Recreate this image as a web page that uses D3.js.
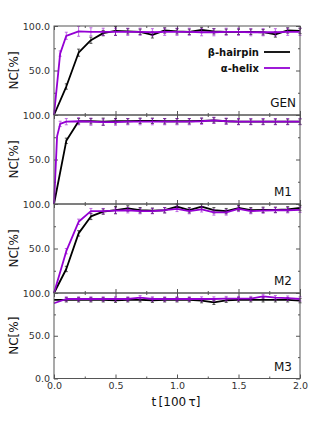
<!DOCTYPE html>
<html>
<head>
<meta charset="utf-8">
<script src="https://cdn.jsdelivr.net/npm/d3@7"></script>
<style>
  body { margin: 0; background: #fff; }
  svg text { font-family: "DejaVu Sans", sans-serif; }
</style>
</head>
<body>
<svg id="chart" width="315" height="425"></svg>
<script>
// sampling times in units of 100 tau
const times = [0, 0.025, 0.05, 0.1, 0.2, 0.3, 0.4, 0.5, 0.6, 0.7, 0.8, 0.9,
  1.0, 1.1, 1.2, 1.3, 1.4, 1.5, 1.6, 1.7, 1.8, 1.9, 2.0]

const panelNames = ['GEN', 'M1', 'M2', 'M3']
const seriesNames = ['β-hairpin', 'α-helix']
const seriesColors = ['#000000', '#9400d3']

// NC[%] per panel, null = no sample drawn
const genHairpin = [0, null, null, 32, 70, 84, 92, 94.5, 94, 93.5, 90, 95, 94, 93.5, 95.5, 94, 93.5, 93.5, 93.5, 93, 90.5, 95, 94.5]
const genHelix = [0, null, 69, 89, 94, 93.5, 93.5, 93.5, 93.5, 93.5, 93, 93.5, 93.5, 93.5, 93, 93, 93.5, 93.5, 93, 93, 93, 93.5, 93.5]
const m1Hairpin = [0, null, null, 71, 93, 93, 92.5, 93, 93, 93.5, 93.5, 93, 93, 93, 93.5, 94, 93, 92.5, 92.5, 92.5, 92.5, 92.5, 92.5]
const m1Helix = [0, 76, 90, 92.5, 93, 92.5, 92, 92, 92.5, 92.5, 92.5, 92.5, 92.5, 92.5, 93, 94, 93, 92.5, 92.5, 92.5, 92.5, 92.5, 92.5]
const m2Hairpin = [0, null, null, 27, 67, 86, 91.5, 93, 95, 93, 92.5, 93, 97, 93, 97, 93, 92, 95.5, 93, 93.5, 93.5, 94, 95.5]
const m2Helix = [0, null, null, 47, 80, 92, 92, 92.5, 93, 92, 92, 93, 94.5, 92, 94, 90.5, 90.5, 94.5, 92, 92.5, 93, 93, 93.5]
const m3Hairpin = [92, null, null, 92, 92, 92, 92, 91.5, 92, 92, 91.5, 92, 92, 92, 91, 89, 91.5, 92, 92, 92, 92, 92, 91]
const m3Helix = [88, null, null, 93, 93, 93, 93, 93, 93, 94.5, 93, 93, 93, 93, 93, 93, 93.5, 93.5, 93.5, 96, 94.5, 94, 93]

// error bar half-widths
const genHairpinErr = [null, null, null, 3, 4, 3.5, 3, 5, 3, 3, 3.5, 3, 3, 3, 3, 3, 3, 3, 3, 3, 3, 3, 3]
const genHelixErr = [null, null, 3, 4, 5.5, 4.5, 4, 4, 4, 4, 4, 4, 4, 4, 4, 4, 4, 4, 4, 4, 4, 4, 4]
const m1HairpinErr = [null, null, null, 3, 3, 3, 4, 3, 3, 3, 3, 3, 3, 3, 3, 3, 3, 3, 3, 3, 3, 3, 3]
const m1HelixErr = [null, null, 3, 3.5, 4, 4, 3.5, 3.5, 3.5, 3.5, 3.5, 3.5, 3.5, 3.5, 3.5, 3.5, 3.5, 3.5, 3.5, 3.5, 3.5, 3.5, 3.5]
const m2HairpinErr = [null, null, null, 3, 3, 3.5, 3, 4, 3, 3, 3, 3, 3, 3, 3, 3, 3, 3, 3, 3, 3, 3, 3]
const m2HelixErr = [null, null, null, 3, 3, 3, 3, 3, 3, 3, 3, 3, 3, 3, 3, 3, 3, 3, 3, 3, 3, 3, 3]
const m3HairpinErr = [null, null, null, 2.5, 2.5, 2.5, 2.5, 2.5, 2.5, 2.5, 2.5, 2.5, 2.5, 2.5, 2.5, 2.5, 2.5, 2.5, 2.5, 2.5, 2.5, 2.5, 2.5]
const m3HelixErr = [null, null, null, 2.5, 2.5, 2.5, 2.5, 2.5, 2.5, 2.5, 2.5, 2.5, 2.5, 2.5, 2.5, 2.5, 2.5, 2.5, 2.5, 2.5, 2.5, 2.5, 2.5]

const xTicks = [0, 0.5, 1.0, 1.5, 2.0]
const xMinor = [0.25, 0.75, 1.25, 1.75]
const yTicks = [0, 50, 100]
const yMinor = [25, 75]

const panels = [
  [genHairpin, genHelix, genHairpinErr, genHelixErr],
  [m1Hairpin, m1Helix, m1HairpinErr, m1HelixErr],
  [m2Hairpin, m2Helix, m2HairpinErr, m2HelixErr],
  [m3Hairpin, m3Helix, m3HairpinErr, m3HelixErr]
]

const svg = d3.select('#chart')
const left = 54
const right = 300
const panelTops = [26, 115, 204, 293]
const panelHeights = [89, 89, 89, 85.5]
const spine = '#555'

const x = d3.scaleLinear().domain([0, 2]).range([left, right])

function styleAxis (sel) {
  sel.select('.domain').remove()
  sel.selectAll('.tick line').attr('stroke', spine)
  sel.selectAll('.tick text').attr('fill', '#333').attr('font-size', 9.5)
}

panels.forEach((p, i) => {
  const top = panelTops[i]
  const bottom = top + panelHeights[i]
  const y = d3.scaleLinear().domain([0, 100]).range([bottom, top])
  const g = svg.append('g').attr('class', 'panel')
  const last = i === panels.length - 1

  // ticks
  g.append('g').attr('transform', 'translate(' + left + ',0)')
    .call(d3.axisLeft(y).tickValues(last ? yTicks : [50, 100]).tickSize(-4).tickPadding(4)
      .tickFormat(d3.format('.1f')))
    .call(styleAxis)
  g.append('g').attr('transform', 'translate(' + left + ',0)')
    .call(d3.axisLeft(y).tickValues(yMinor).tickSize(-2).tickFormat(''))
    .call(styleAxis)
  g.append('g').attr('transform', 'translate(' + right + ',0)')
    .call(d3.axisRight(y).tickValues([0, 50, 100]).tickSize(-4).tickFormat(''))
    .call(styleAxis)
  g.append('g').attr('transform', 'translate(' + right + ',0)')
    .call(d3.axisRight(y).tickValues(yMinor).tickSize(-2).tickFormat(''))
    .call(styleAxis)
  g.append('g').attr('transform', 'translate(0,' + bottom + ')')
    .call(d3.axisBottom(x).tickValues(xTicks).tickSize(-4).tickPadding(4)
      .tickFormat(last ? d3.format('.1f') : ''))
    .call(styleAxis)
  g.append('g').attr('transform', 'translate(0,' + bottom + ')')
    .call(d3.axisBottom(x).tickValues(xMinor).tickSize(-2).tickFormat(''))
    .call(styleAxis)
  g.append('g').attr('transform', 'translate(0,' + top + ')')
    .call(d3.axisTop(x).tickValues(xTicks).tickSize(-4).tickFormat(''))
    .call(styleAxis)
  g.append('g').attr('transform', 'translate(0,' + top + ')')
    .call(d3.axisTop(x).tickValues(xMinor).tickSize(-2).tickFormat(''))
    .call(styleAxis)

  // series
  for (let s = 0; s < 2; s++) {
    const pts = times.map((t, k) => ({ t, v: p[s][k], e: p[s + 2][k] }))
      .filter(d => d.v !== null)
    const line = d3.line().x(d => x(d.t)).y(d => y(d.v))
    g.append('path')
      .datum(pts)
      .attr('fill', 'none')
      .attr('stroke', seriesColors[s])
      .attr('stroke-width', 1.8)
      .attr('stroke-linejoin', 'round')
      .attr('d', line)

    const bars = g.append('g')
      .attr('stroke', seriesColors[s])
      .attr('stroke-width', 0.9)
      .attr('opacity', s === 0 ? 0.75 : 0.65)
    pts.filter(d => d.e !== null).forEach(d => {
      const cx = x(d.t)
      const y0 = y(Math.min(100, d.v + d.e))
      const y1 = y(d.v - d.e)
      bars.append('line').attr('x1', cx).attr('x2', cx).attr('y1', y0).attr('y2', y1)
      bars.append('line').attr('x1', cx - 1.5).attr('x2', cx + 1.5).attr('y1', y0).attr('y2', y0)
      bars.append('line').attr('x1', cx - 1.5).attr('x2', cx + 1.5).attr('y1', y1).attr('y2', y1)
    })
  }

  // frame
  g.append('rect')
    .attr('x', left).attr('y', top)
    .attr('width', right - left).attr('height', bottom - top)
    .attr('fill', 'none').attr('stroke', spine).attr('stroke-width', 1)

  // y label
  g.append('text')
    .attr('transform', 'translate(18,' + (top + bottom) / 2 + ') rotate(-90)')
    .attr('text-anchor', 'middle')
    .attr('font-size', 12)
    .attr('fill', '#111')
    .text('NC[%]')

  // panel name
  g.append('text')
    .attr('x', i === 0 ? 296 : 292)
    .attr('y', bottom - 8)
    .attr('text-anchor', 'end')
    .attr('font-size', 12)
    .attr('fill', '#111')
    .text(panelNames[i])
})

// legend in the first panel
const legend = svg.append('g')
seriesNames.forEach((name, s) => {
  const ly = 52 + s * 16
  legend.append('text')
    .attr('x', 259).attr('y', ly).attr('dy', '0.35em')
    .attr('text-anchor', 'end')
    .attr('font-size', 10).attr('font-weight', 'bold')
    .attr('fill', '#111')
    .text(name)
  legend.append('line')
    .attr('x1', 264).attr('x2', 290).attr('y1', ly).attr('y2', ly)
    .attr('stroke', seriesColors[s]).attr('stroke-width', 1.8)
})

// x label
svg.append('text')
  .attr('x', 176).attr('y', 406)
  .attr('text-anchor', 'middle')
  .attr('font-size', 12)
  .attr('fill', '#111')
  .text('t\u2009[100\u2009τ]')
</script>
</body>
</html>
